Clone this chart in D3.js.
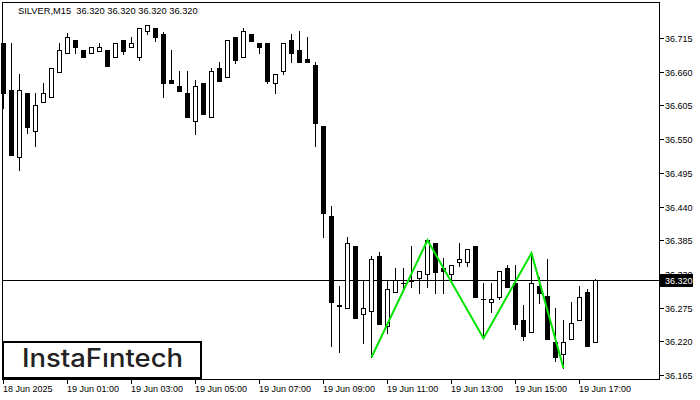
<!DOCTYPE html>
<html><head><meta charset="utf-8">
<script src="https://cdn.jsdelivr.net/npm/d3@7"></script>
<style>html,body{margin:0;padding:0;background:#fff;} svg{display:block;}</style>
</head><body>
<svg id="c" width="700" height="400"></svg>
<script>
// ---- data (SILVER, M15, 18 Jun 23:00 .. 19 Jun 17:30) ----
const symbolTitle = "SILVER,M15  36.320 36.320 36.320 36.320";
const opens  = [36.707,36.630,36.521,36.625,36.563,36.611,36.619,36.660,36.690,36.712,
                36.695,36.690,36.694,36.695,36.684,36.712,36.700,36.684,36.726,36.731,
                36.722,36.646,36.637,36.625,36.580,36.642,36.586,36.666,36.651,36.717,
                36.684,36.722,36.707,36.707,36.642,36.661,36.712,36.695,36.681,36.671,
                36.571,36.424,36.279,36.274,36.375,36.265,36.269,36.359,36.245,36.300,
                36.315,36.318,36.323,36.330,36.380,36.340,36.330,36.349,36.349,36.375,
                36.289,36.284,36.292,36.340,36.315,36.255,36.235,36.310,36.294,36.219,
                36.199,36.224,36.255,36.300,36.219];
const highs  = [36.707,36.707,36.656,36.625,36.625,36.642,36.666,36.707,36.723,36.712,
                36.695,36.700,36.707,36.695,36.707,36.712,36.717,36.731,36.736,36.731,
                36.725,36.695,36.661,36.661,36.646,36.642,36.666,36.676,36.712,36.717,
                36.731,36.722,36.707,36.707,36.656,36.707,36.722,36.726,36.717,36.676,
                36.571,36.441,36.310,36.390,36.375,36.320,36.359,36.366,36.320,36.340,
                36.340,36.375,36.335,36.385,36.380,36.356,36.344,36.380,36.371,36.375,
                36.315,36.315,36.335,36.344,36.344,36.279,36.364,36.325,36.354,36.274,
                36.255,36.284,36.310,36.305,36.322];
const lows   = [36.601,36.524,36.500,36.560,36.539,36.611,36.619,36.660,36.690,36.690,
                36.684,36.690,36.694,36.669,36.684,36.689,36.700,36.679,36.722,36.710,
                36.619,36.642,36.628,36.586,36.558,36.591,36.586,36.645,36.651,36.674,
                36.684,36.710,36.690,36.642,36.625,36.656,36.676,36.676,36.676,36.539,
                36.390,36.212,36.203,36.274,36.258,36.217,36.194,36.248,36.234,36.300,
                36.307,36.309,36.299,36.309,36.299,36.299,36.320,36.343,36.343,36.292,
                36.225,36.268,36.289,36.309,36.240,36.222,36.235,36.282,36.224,36.188,
                36.176,36.224,36.255,36.212,36.219];
const closes = [36.625,36.524,36.630,36.570,36.606,36.625,36.666,36.695,36.717,36.700,
                36.684,36.700,36.700,36.669,36.707,36.694,36.707,36.731,36.736,36.717,
                36.642,36.642,36.628,36.586,36.637,36.591,36.661,36.645,36.712,36.679,
                36.726,36.710,36.700,36.645,36.656,36.707,36.690,36.676,36.676,36.576,
                36.429,36.284,36.278,36.380,36.258,36.274,36.354,36.248,36.305,36.320,
                36.315,36.320,36.335,36.385,36.333,36.335,36.344,36.354,36.371,36.292,
                36.289,36.289,36.335,36.309,36.248,36.229,36.315,36.299,36.224,36.194,
                36.219,36.250,36.292,36.212,36.320];
const bidPrice = 36.320;
const priceTicks = [36.165,36.220,36.275,36.330,36.385,36.440,36.495,36.550,36.605,36.660,36.715];
const timeTickIdx = [0,8,16,24,32,40,48,56,64,72];
const timeLabels = ["18 Jun 2025","19 Jun 01:00","19 Jun 03:00","19 Jun 05:00","19 Jun 07:00",
                    "19 Jun 09:00","19 Jun 11:00","19 Jun 13:00","19 Jun 15:00","19 Jun 17:00"];
const patternIdx = [46,53,60,66,70];
const patternPrice = [36.194,36.385,36.225,36.364,36.176];

// ---- drawing ----
const svg = d3.select('#c');
const FONT = "'Liberation Sans', Arial, sans-serif";
const x = d3.scaleLinear().domain([0, 82]).range([3.5, 659.5]);
const y = d3.scaleLinear().domain([36.165, 36.715]).range([375, 38]);
const py = v => Math.round(y(v));

svg.append('rect').attr('width',700).attr('height',400).attr('fill','#fff');

const g = svg.append('g').attr('shape-rendering','crispEdges');

// bid line
g.append('line').attr('x1',2).attr('x2',659.5)
  .attr('y1',py(bidPrice)+0.5).attr('y2',py(bidPrice)+0.5)
  .attr('stroke','#000').attr('stroke-width',1);

const candles = opens.map((o,i)=>({i,o,h:highs[i],l:lows[i],c:closes[i]}));
const cg = g.append('g');
// wicks
cg.selectAll('rect.w').data(candles).join('rect').attr('class','w')
  .attr('x',d=>x(d.i)-0.5).attr('width',1)
  .attr('y',d=>py(d.h)).attr('height',d=>py(d.l)-py(d.h)+1)
  .attr('fill','#000');
// bodies
candles.forEach(d=>{
  const top = py(Math.max(d.o,d.c)), bot = py(Math.min(d.o,d.c));
  if (bot - top < 1) {
    cg.append('rect').attr('x',x(d.i)-2.5).attr('width',5).attr('y',top).attr('height',1).attr('fill','#000');
  } else if (d.c < d.o) {
    cg.append('rect').attr('x',x(d.i)-2.5).attr('width',5).attr('y',top).attr('height',bot-top+1).attr('fill','#000');
  } else {
    cg.append('rect').attr('x',x(d.i)-2).attr('width',4).attr('y',top+0.5).attr('height',bot-top)
      .attr('fill','#fff').attr('stroke','#000').attr('stroke-width',1);
  }
});

// frame
g.append('rect').attr('x',2.5).attr('y',2.5).attr('width',657).attr('height',377)
  .attr('fill','none').attr('stroke','#000').attr('stroke-width',1);

// pattern line
const line = d3.line().x((d,k)=>x(patternIdx[k])).y(d=>y(d));
svg.append('path').datum(patternPrice).attr('d',line)
  .attr('fill','none').attr('stroke','#00e400').attr('stroke-width',2).attr('stroke-linejoin','miter');

// right axis
priceTicks.forEach(v=>{
  g.append('line').attr('x1',659.5).attr('x2',664).attr('y1',py(v)+0.5).attr('y2',py(v)+0.5).attr('stroke','#000');
  svg.append('text').attr('x',665).attr('y',py(v)+4).text(v.toFixed(3))
    .attr('font-family',FONT).attr('font-size',9).attr('fill','#000');
});
// bid label
svg.append('rect').attr('x',660).attr('y',py(bidPrice)-6).attr('width',33).attr('height',13).attr('fill','#000');
svg.append('text').attr('x',665).attr('y',py(bidPrice)+4).text(bidPrice.toFixed(3))
  .attr('font-family',FONT).attr('font-size',9).attr('fill','#fff');

// bottom axis
timeTickIdx.forEach((idx,k)=>{
  g.append('line').attr('x1',x(idx)).attr('x2',x(idx)).attr('y1',379.5).attr('y2',384).attr('stroke','#000');
  svg.append('text').attr('x',x(idx)-0.5).attr('y',392).text(timeLabels[k])
    .attr('font-family',FONT).attr('font-size',9).attr('fill','#000');
});

// title
svg.append('text').attr('x',18).attr('y',14).text(symbolTitle)
  .attr('font-family',FONT).attr('font-size',9.3).attr('fill','#000').attr('xml:space','preserve')
  .style('white-space','pre');

// logo
svg.append('rect').attr('x',3).attr('y',342).attr('width',198).attr('height',36)
  .attr('fill','#fff').attr('stroke','#000').attr('stroke-width',2);
svg.append('text').attr('x',22).attr('y',367).text('InstaFıntech')
  .attr('font-family',"Inter, 'Open Sans', sans-serif").attr('font-weight',500).attr('font-size',25)
  .attr('textLength',161).attr('lengthAdjust','spacingAndGlyphs').attr('fill','#222');
</script>
</body></html>
